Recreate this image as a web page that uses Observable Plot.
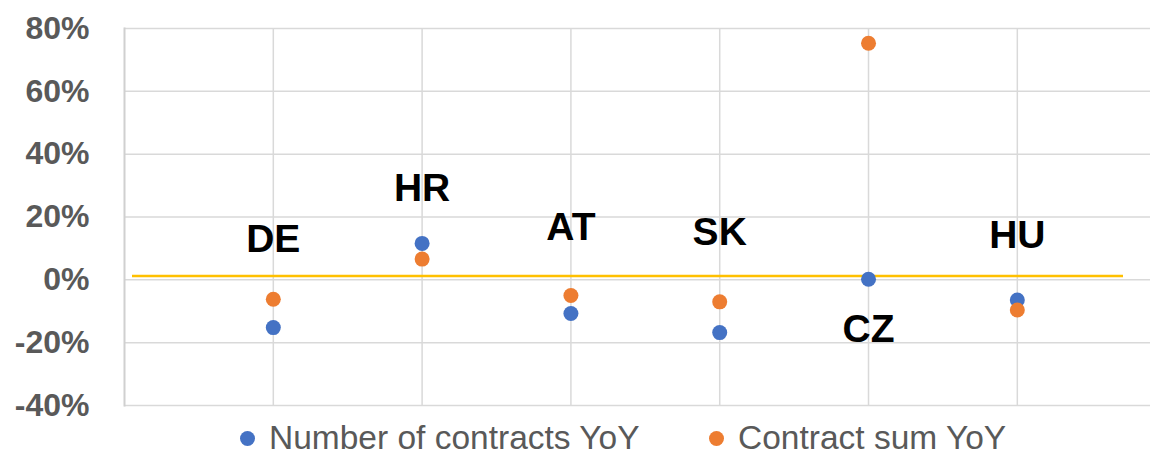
<!DOCTYPE html>
<html>
<head>
<meta charset="utf-8">
<script src="https://cdn.jsdelivr.net/npm/d3@7"></script>
<script src="https://cdn.jsdelivr.net/npm/@observablehq/plot@0.6"></script>
<style>
  html, body { margin: 0; padding: 0; background: #fff; }
  #wrap { position: relative; width: 1150px; height: 456px; overflow: hidden; font-family: "Liberation Sans", Arial, sans-serif; }
  #wrap svg { position: absolute; left: 0; top: 0; }
  .leg { position: absolute; top: 420px; height: 36px; display: flex; align-items: center; font-size: 33.5px; line-height: 36px; color: #595959; white-space: nowrap; }
  .dot { width: 15px; height: 15px; border-radius: 50%; margin-right: 14px; flex: none; }
</style>
</head>
<body>
<div id="wrap"></div>
<script>
const categories = ["DE", "HR", "AT", "SK", "CZ", "HU"];
const contractsYoY = [-15.2, 11.6, -10.7, -16.8, 0.2, -6.4];
const sumYoY = [-6.2, 6.6, -5.0, -7.0, 75.3, -9.6];
const labelYoY = [12.7, 29.1, 16.7, 15.1, -15.9, 14.1];
const averageLine = 1.2;
const yTicks = [-40, -20, 0, 20, 40, 60, 80];
const seriesNames = ["Number of contracts YoY", "Contract sum YoY"];
const colors = ["#4472C4", "#ED7D31"];

const pos = c => categories.indexOf(c) + 1;
const points = [];
categories.forEach((c, i) => {
  points.push({cat: c, v: contractsYoY[i], s: seriesNames[0]});
  points.push({cat: c, v: sumYoY[i], s: seriesNames[1]});
});
const labels = categories.map((c, i) => ({cat: c, v: labelYoY[i]}));

const chart = Plot.plot({
  width: 1150,
  height: 425,
  marginLeft: 124,
  marginRight: 0,
  marginTop: 28,
  marginBottom: 20,
  style: {fontFamily: "'Liberation Sans', Arial, sans-serif", background: "transparent"},
  x: {type: "linear", domain: [0, 6.895], axis: null},
  y: {domain: [-40, 80], axis: null},
  color: {domain: seriesNames, range: colors},
  marks: [
    Plot.ruleY(yTicks, {stroke: "#d9d9d9", strokeWidth: 1.5}),
    Plot.ruleX(categories, {x: pos, y1: -40, y2: 80, stroke: "#d9d9d9", strokeWidth: 1.5}),
    Plot.frame({anchor: "left", stroke: "#d0d0d0", strokeWidth: 2}),
    Plot.axisY(yTicks, {label: null, tickSize: 0, tickPadding: 35, fontSize: 32, fontWeight: "bold", fill: "#595959", tickFormat: d => d + "%"}),
    Plot.ruleY([averageLine], {stroke: "#FFC000", strokeWidth: 2.5, insetLeft: 8, insetRight: 27}),
    Plot.dot(points, {x: d => pos(d.cat), y: "v", fill: "s", r: 7.5}),
    Plot.text(labels, {x: d => pos(d.cat), y: "v", text: "cat", fontSize: 39, fontWeight: "bold", fill: "#000"})
  ]
});
const wrap = document.getElementById("wrap");
wrap.appendChild(chart);

const legLefts = [240, 709];
seriesNames.forEach((n, i) => {
  const d = document.createElement("div");
  d.className = "leg";
  d.style.left = legLefts[i] + "px";
  d.innerHTML = `<span class="dot" style="background:${colors[i]}"></span><span>${n}</span>`;
  wrap.appendChild(d);
});
</script>
</body>
</html>
